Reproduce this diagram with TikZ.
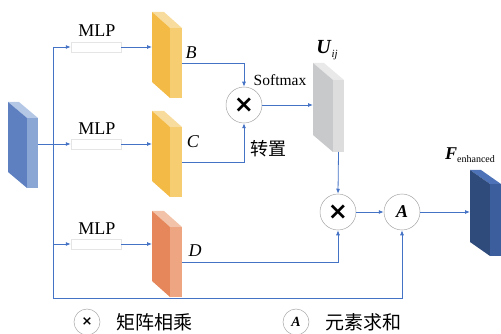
\documentclass[tikz,border=0pt]{standalone}
\usepackage{fontspec}
\setmainfont{Liberation Serif}
\newfontfamily\cjk{Noto Sans CJK SC}
\newfontfamily\symf{DejaVu Sans}
\usepackage{xcolor}
\usepackage{tikz}
\usetikzlibrary{arrows.meta}

\definecolor{linkblue}{HTML}{4472C4}
\definecolor{infront}{HTML}{5E80C0}
\definecolor{inside}{HTML}{8AA6D4}
\definecolor{intop}{HTML}{B4C8E6}
\definecolor{bcfront}{HTML}{F3BA45}
\definecolor{bcside}{HTML}{F6CD70}
\definecolor{bctop}{HTML}{F8DC9E}
\definecolor{dfront}{HTML}{E5875A}
\definecolor{dside}{HTML}{EDA582}
\definecolor{dtop}{HTML}{F2C3A8}
\definecolor{ufront}{HTML}{C8C9CB}
\definecolor{uside}{HTML}{DDDDDE}
\definecolor{utop}{HTML}{E9E9EA}
\definecolor{ffront}{HTML}{2F4B7C}
\definecolor{fside}{HTML}{3D5E9C}
\definecolor{ftop}{HTML}{4E72B8}

% feature slab: name, x, y, front width, side width, slant, height, colour prefix
\newcommand{\slab}[8]{%
  \fill[#8top] (#2,#3) -- ++(#5,0) -- ++(#4,#6) -- ++(-#5,0) -- cycle;
  \fill[#8front] (#2,#3) -- ++(#4,#6) -- ++(0,#7) -- ++(-#4,-#6) -- cycle;
  \fill[#8side] (#2+#4,#3+#6) rectangle ++(#5,#7);
  \coordinate (#1-w) at (#2,#3+#7/2);
  \coordinate (#1-e) at (#2+#4+#5,#3+#6+#7/2);
  \coordinate (#1-s) at (#2+#4+#5/2,#3+#6+#7);
}

\begin{document}
\begin{tikzpicture}[x=1pt,y=-1pt,
    line/.style={linkblue,line width=0.8pt},
    link/.style={line,-{Latex[length=5pt,width=4pt]}},
    mlpbox/.style={draw=gray!20,line width=0.5pt,fill=white,minimum width=50pt,minimum height=10pt},
    op/.style={circle,draw=gray!70,line width=0.5pt,fill=white,minimum size=36pt},
    legop/.style={circle,draw=gray!70,line width=0.5pt,minimum size=26pt}]
  \tikzstyle{every node}+=[inner sep=0pt]
  \useasboundingbox (0,0) rectangle (501,334);

  % feature slabs
  \slab{in}{8}{102}{19}{11}{16}{70}{in}
  \slab{B}{152}{12}{18}{12}{16}{70}{bc}
  \slab{C}{152}{111}{18}{12}{16}{70}{bc}
  \slab{D}{152}{211}{18}{12}{16}{70}{d}
  \slab{U}{313}{63}{20}{11}{17}{72}{u}
  \slab{F}{470}{170}{20}{11}{14}{72}{f}

  % MLP branches
  \draw[line] (53,47) coordinate (t0) -- (53,298) coordinate (t1);
  \node[mlpbox] (m1) at (96,47) {};
  \node[mlpbox] (m2) at (96,144) {};
  \node[mlpbox] (m3) at (96,244) {};
  \node[font=\fontsize{18}{20}\selectfont] (l1) at (97,31) {MLP};
  \node[font=\fontsize{18}{20}\selectfont] (l2) at (97,129) {MLP};
  \node[font=\fontsize{18}{20}\selectfont] (l3) at (97,229) {MLP};
  \draw[link] (m1.west -| t0) -- (m1);
  \draw[link] (m2.west -| in-e) -- (m2);
  \draw[link] (m3.west -| t0) -- (m3);
  \draw[link] (m1) -- (m1 -| B-w);
  \draw[link] (m2) -- (m2 -| C-w);
  \draw[link] (m3) -- (m3 -| D-w);

  % operators
  \node[op] (c1) at (244,105) {\symf\bfseries\fontsize{24}{24}\selectfont ×};
  \node[op] (c2) at (338,212) {\symf\bfseries\fontsize{24}{24}\selectfont ×};
  \node[op] (cA) at (402,212) {\fontsize{18}{18}\selectfont\bfseries\itshape A};

  \draw[link] (B-e) -| (c1.north);
  \draw[link] (C-e) -| (c1.south);
  \draw[link] (c1) -- (c1 -| U-w);
  \draw[link] (U-s) -- (c2.north);
  \draw[link] (D-e) -| (c2.south);
  \draw[link] (c2) -- (cA);
  \draw[link] (cA) -- (cA -| F-w);
  \draw[link] (t1) -| (cA.south);

  % labels
  \node[font=\fontsize{18}{20}\selectfont\itshape] (lb) at (191,53) {B};
  \node[font=\fontsize{18}{20}\selectfont\itshape] (lc) at (193,142) {C};
  \node[font=\fontsize{18}{20}\selectfont\itshape] (ld) at (195,251) {D};
  \node[font=\fontsize{15.5}{17}\selectfont] (sm) at (280,80) {Softmax};
  \node[font=\fontsize{18}{20}\selectfont\cjk] (tr) at (268,149) {转置};
  \node[font=\fontsize{20}{22}\selectfont] (lu) at (327,50)
    {\textbf{\textit{U}}\raisebox{-4pt}{\fontsize{11}{11}\selectfont\itshape ij}};
  \node[font=\fontsize{18}{20}\selectfont] (lf) at (470,155)
    {\textbf{\textit{F}}\raisebox{-3pt}{\fontsize{10}{10}\selectfont enhanced}};

  % legend
  \node[legop] (k1) at (87,322) {\symf\bfseries\fontsize{13}{13}\selectfont ×};
  \node[font=\fontsize{19}{20}\selectfont\cjk] (leg1) at (154,322) {矩阵相乘};
  \node[legop] (k2) at (296,322) {\fontsize{14}{14}\selectfont\bfseries\itshape A};
  \node[font=\fontsize{19}{20}\selectfont\cjk] (leg2) at (363,322) {元素求和};
\end{tikzpicture}
\end{document}
